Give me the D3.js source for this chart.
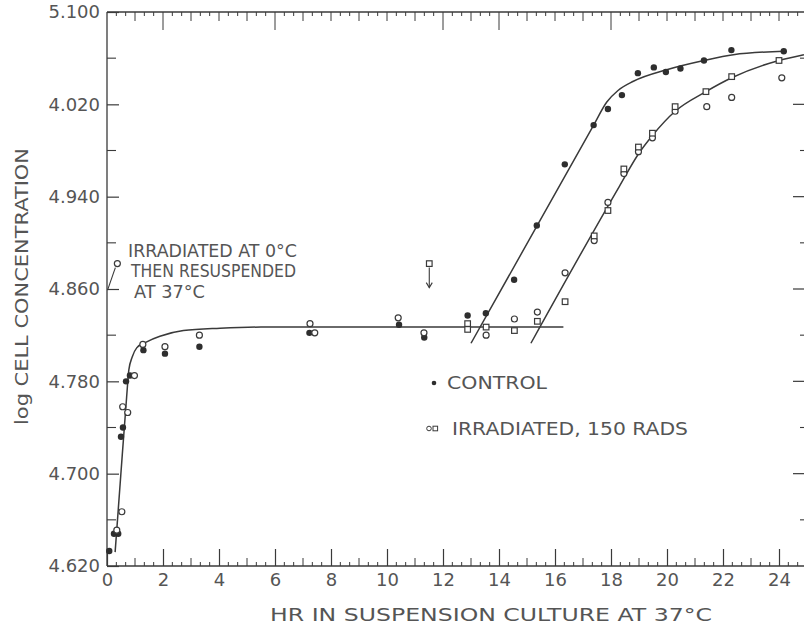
<!DOCTYPE html>
<html>
<head>
<meta charset="utf-8">
<script src="https://cdn.jsdelivr.net/npm/d3@7"></script>
<style>
  html, body { margin: 0; padding: 0; background: #ffffff; }
  svg { display: block; }
  text { font-family: "DejaVu Sans", "Liberation Sans", sans-serif; fill: #555; }
</style>
</head>
<body>
<svg id="chart" width="804" height="629"></svg>
<script>
// ---- data: hours in suspension culture vs log cell concentration ----
const controlHr  = [0.08, 0.25, 0.40, 0.50, 0.57, 0.68, 0.82, 1.30, 2.07, 3.30, 7.23, 10.43, 11.33,
                    12.88, 13.53, 14.54, 15.35, 16.35, 17.38, 17.89, 18.39, 18.96, 19.53, 19.96, 20.48,
                    21.32, 22.30, 24.17];
const controlLog = [4.633, 4.648, 4.648, 4.732, 4.740, 4.780, 4.785, 4.807, 4.804, 4.810, 4.822, 4.829, 4.818,
                    4.837, 4.839, 4.868, 4.915, 4.968, 5.002, 5.016, 5.028, 5.047, 5.052, 5.048, 5.051,
                    5.058, 5.067, 5.066];

// irradiated, 150 rads: open circles
const irrCircleHr  = [0.35, 0.53, 0.56, 0.74, 0.98, 1.28, 2.07, 3.30, 7.25, 7.42, 10.40, 11.32,
                      13.54, 14.55, 15.37, 16.36, 17.40, 17.89, 18.46, 18.98, 19.48, 20.29, 21.42, 22.31, 24.10];
const irrCircleLog = [4.651, 4.667, 4.758, 4.753, 4.785, 4.812, 4.810, 4.820, 4.830, 4.822, 4.835, 4.822,
                      4.820, 4.834, 4.840, 4.874, 4.902, 4.935, 4.960, 4.979, 4.991, 5.014, 5.018, 5.026, 5.043];

// irradiated, 150 rads: open squares
const irrSquareHr  = [12.88, 12.88, 13.54, 14.55, 15.37, 16.36, 17.40, 17.89, 18.46, 18.98, 19.48, 20.29,
                      21.39, 22.31, 24.00];
const irrSquareLog = [4.830, 4.825, 4.827, 4.824, 4.832, 4.849, 4.906, 4.928, 4.964, 4.983, 4.995, 5.018,
                      5.031, 5.044, 5.058];

// fitted curves
const lagCurveHr  = [0.29, 0.49, 0.70, 0.78, 0.90, 1.06, 1.40, 1.89, 2.73, 4.04, 5.50, 16.30];
const lagCurveLog = [4.632, 4.698, 4.766, 4.790, 4.801, 4.809, 4.814, 4.819, 4.824, 4.826, 4.827, 4.827];

const controlCurveHr  = [13.00, 17.38, 17.85, 18.25, 18.80, 19.99, 21.32, 22.37, 24.17];
const controlCurveLog = [4.813, 5.002, 5.022, 5.032, 5.040, 5.050, 5.058, 5.063, 5.066];

const irrCurveHr  = [15.14, 18.30, 18.98, 19.48, 20.29, 21.39, 22.31, 24.00, 24.89];
const irrCurveLog = [4.813, 4.949, 4.977, 4.993, 5.014, 5.031, 5.043, 5.058, 5.063];

// annotated points
const coldPoint  = {hr: 0.37, log: 4.882};   // irradiated at 0 °C, then resuspended
const coldLeader = {hr: 0.02, log: 4.859};
const arrowPoint = {hr: 11.51, log: 4.882};  // square with downward arrow

// axis ticks
const xTickValues = [0, 2, 4, 6, 8, 10, 12, 14, 16, 18, 20, 22, 24];
const xTickLabels = ["0", "2", "4", "6", "8", "10", "12", "14", "16", "18", "20", "22", "24"];
const yTickValues = [4.62, 4.70, 4.78, 4.86, 4.94, 5.02, 5.10];
const yTickLabels = ["4.620", "4.700", "4.780", "4.860", "4.940", "4.020", "5.100"];
const topLongTicks = [2, 6, 12, 14, 18];

// ---- layout ----
const svg = d3.select("#chart");
const x = d3.scaleLinear().domain([0, 25]).range([107, 807]);
const y = d3.scaleLinear().domain([4.62, 5.10]).range([566, 12]);
const ink = "#3a3a3a";

svg.append("rect").attr("width", 804).attr("height", 629).attr("fill", "#fff");

const frame = svg.append("g").attr("stroke", ink).attr("stroke-width", 1.3).attr("fill", "none");
frame.append("line").attr("x1", x(0)).attr("x2", x(25)).attr("y1", y(4.62)).attr("y2", y(4.62));
frame.append("line").attr("x1", x(0)).attr("x2", x(25)).attr("y1", y(5.10)).attr("y2", y(5.10));
frame.append("line").attr("x1", x(0)).attr("x2", x(0)).attr("y1", y(4.62)).attr("y2", y(5.10));
frame.append("line").attr("x1", x(25)).attr("x2", x(25)).attr("y1", y(4.62)).attr("y2", y(5.10));

// bottom axis: labelled ticks every 2 h, hourly and 20-minute minor ticks
const gx = svg.append("g").attr("transform", `translate(0,${y(4.62)})`)
  .call(d3.axisBottom(x).tickValues(xTickValues).tickFormat((d, i) => xTickLabels[i])
    .tickSizeInner(-17).tickSizeOuter(0).tickPadding(7));
gx.select(".domain").remove();
gx.selectAll("line").attr("stroke", ink).attr("stroke-width", 1.2);
gx.selectAll("text").attr("font-size", 18).attr("fill", "#555");

const minorThirds = d3.range(1, 75).filter(i => i % 3 !== 0).map(i => i / 3);
const oddHours = d3.range(1, 25, 2);
svg.append("g").attr("stroke", ink).attr("stroke-width", 1)
  .selectAll("line").data(minorThirds).join("line")
  .attr("x1", d => x(d)).attr("x2", d => x(d)).attr("y1", y(4.62)).attr("y2", y(4.62) - 4);
svg.append("g").attr("stroke", ink).attr("stroke-width", 1)
  .selectAll("line").data(oddHours).join("line")
  .attr("x1", d => x(d)).attr("x2", d => x(d)).attr("y1", y(4.62)).attr("y2", y(4.62) - 8);

// top axis: inward ticks
const topTicks = d3.range(1, 75).map(i => i / 3);
svg.append("g").attr("stroke", ink).attr("stroke-width", 1)
  .selectAll("line").data(topTicks).join("line")
  .attr("x1", d => x(d)).attr("x2", d => x(d)).attr("y1", y(5.10))
  .attr("y2", d => {
    const h = Math.round(d * 3) / 3;
    if (topLongTicks.some(t => Math.abs(t - h) < 1e-6)) return y(5.10) + 18;
    if (Math.abs(h - Math.round(h)) < 1e-6) return y(5.10) + 9;
    return y(5.10) + 4;
  });

// left axis with labels
const gy = svg.append("g").attr("transform", `translate(${x(0)},0)`)
  .call(d3.axisLeft(y).tickValues(yTickValues).tickFormat((d, i) => yTickLabels[i])
    .tickSizeInner(-12).tickSizeOuter(0).tickPadding(7));
gy.select(".domain").remove();
gy.selectAll("line").attr("stroke", ink).attr("stroke-width", 1.2);
gy.selectAll("text").attr("font-size", 18).attr("fill", "#555");

const yMid = d3.range(0, 6).map(i => 4.66 + i * 0.08);
svg.append("g").attr("stroke", ink).attr("stroke-width", 1.1)
  .selectAll("line").data(yMid).join("line")
  .attr("x1", x(0)).attr("x2", x(0) + 9).attr("y1", d => y(d)).attr("y2", d => y(d));

// right axis: inward ticks
svg.append("g").attr("stroke", ink).attr("stroke-width", 1.2)
  .selectAll("line").data(yTickValues.slice(1, -1)).join("line")
  .attr("x1", x(25)).attr("x2", x(25) - 14).attr("y1", d => y(d)).attr("y2", d => y(d));
svg.append("g").attr("stroke", ink).attr("stroke-width", 1.1)
  .selectAll("line").data(yMid).join("line")
  .attr("x1", x(25)).attr("x2", x(25) - 7).attr("y1", d => y(d)).attr("y2", d => y(d));

// ---- curves ----
svg.append("clipPath").attr("id", "plotClip").append("rect")
  .attr("x", x(0)).attr("y", y(5.10)).attr("width", x(25) - x(0)).attr("height", y(4.62) - y(5.10));
const line = d3.line().x(d => x(d[0])).y(d => y(d[1])).curve(d3.curveMonotoneX);
const curves = svg.append("g").attr("clip-path", "url(#plotClip)")
  .attr("fill", "none").attr("stroke", ink).attr("stroke-width", 1.5);
curves.append("path").attr("d", line(d3.zip(lagCurveHr, lagCurveLog)));
curves.append("path").attr("d", line(d3.zip(controlCurveHr, controlCurveLog)));
curves.append("path").attr("d", line(d3.zip(irrCurveHr, irrCurveLog)));

// ---- points ----
const pts = svg.append("g");
pts.selectAll("circle.ctl").data(d3.zip(controlHr, controlLog)).join("circle")
  .attr("class", "ctl").attr("cx", d => x(d[0])).attr("cy", d => y(d[1])).attr("r", 3.2)
  .attr("fill", "#2e2e2e");
pts.selectAll("circle.irr").data(d3.zip(irrCircleHr, irrCircleLog)).join("circle")
  .attr("class", "irr").attr("cx", d => x(d[0])).attr("cy", d => y(d[1])).attr("r", 3)
  .attr("fill", "#fff").attr("stroke", ink).attr("stroke-width", 1.2);
pts.selectAll("rect.irr").data(d3.zip(irrSquareHr, irrSquareLog)).join("rect")
  .attr("class", "irr").attr("x", d => x(d[0]) - 2.8).attr("y", d => y(d[1]) - 2.8)
  .attr("width", 5.6).attr("height", 5.6)
  .attr("fill", "#fff").attr("stroke", ink).attr("stroke-width", 1.2);

// cold-resuspended point with leader to axis
svg.append("line").attr("stroke", ink).attr("stroke-width", 1.1)
  .attr("x1", x(coldPoint.hr) - 2).attr("y1", y(coldPoint.log) + 4)
  .attr("x2", x(coldLeader.hr)).attr("y2", y(coldLeader.log));
svg.append("circle").attr("cx", x(coldPoint.hr)).attr("cy", y(coldPoint.log)).attr("r", 3)
  .attr("fill", "#fff").attr("stroke", ink).attr("stroke-width", 1.2);

// square with arrow pointing down
svg.append("rect").attr("x", x(arrowPoint.hr) - 2.8).attr("y", y(arrowPoint.log) - 2.8)
  .attr("width", 5.6).attr("height", 5.6).attr("fill", "#fff").attr("stroke", ink).attr("stroke-width", 1.2);
const ax = x(arrowPoint.hr), ay0 = y(arrowPoint.log) + 4, ay1 = y(arrowPoint.log) + 24;
svg.append("line").attr("x1", ax).attr("x2", ax).attr("y1", ay0).attr("y2", ay1)
  .attr("stroke", ink).attr("stroke-width", 1.1);
svg.append("path").attr("d", `M${ax - 3},${ay1 - 5} L${ax},${ay1} L${ax + 3},${ay1 - 5}`)
  .attr("fill", "none").attr("stroke", ink).attr("stroke-width", 1.1);

// ---- annotation text ----
function label(txt, px, py, size, len, anchor) {
  const t = svg.append("text").attr("x", px).attr("y", py).attr("font-size", size)
    .attr("text-anchor", anchor || "start").text(txt);
  if (len) t.attr("textLength", len).attr("lengthAdjust", "spacingAndGlyphs");
  return t;
}
label("IRRADIATED  AT 0°C", 128, 257, 17, 169);
label("THEN RESUSPENDED", 131, 277, 17, 165);
label("AT 37°C", 134, 298, 17, 71);

// legend
svg.append("circle").attr("cx", 434).attr("cy", 383).attr("r", 2.3).attr("fill", "#2e2e2e");
label("CONTROL", 447, 389, 18, 100);
svg.append("circle").attr("cx", 429).attr("cy", 428.5).attr("r", 2.3)
  .attr("fill", "#fff").attr("stroke", ink).attr("stroke-width", 1);
svg.append("rect").attr("x", 433).attr("y", 426.2).attr("width", 4.6).attr("height", 4.6)
  .attr("fill", "#fff").attr("stroke", ink).attr("stroke-width", 1);
label("IRRADIATED, 150 RADS", 452, 435, 18, 236);

// axis titles
label("HR  IN  SUSPENSION  CULTURE  AT  37°C", 270, 621, 18, 442);
svg.append("text").attr("transform", "translate(28,425) rotate(-90)")
  .attr("font-size", 18).attr("textLength", 277).attr("lengthAdjust", "spacingAndGlyphs")
  .text("log  CELL  CONCENTRATION");
</script>
</body>
</html>
